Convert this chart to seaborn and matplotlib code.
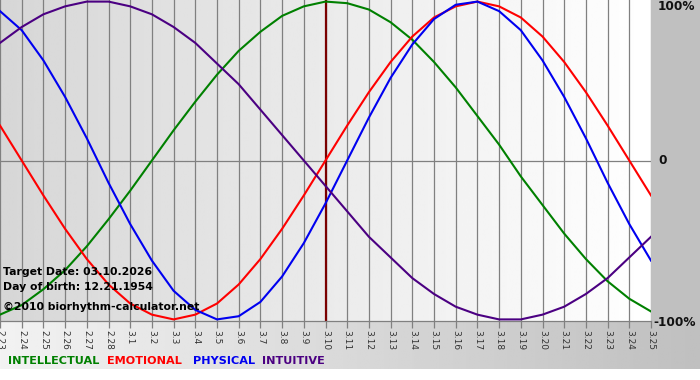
import matplotlib
matplotlib.use("Agg")
import matplotlib.pyplot as plt
import seaborn as sns
import numpy as np
import pandas as pd
from matplotlib.patches import Rectangle

# ---- data ----
dates = ["2.23", "2.24", "2.25", "2.26", "2.27", "2.28", "3.1", "3.2", "3.3", "3.4",
         "3.5", "3.6", "3.7", "3.8", "3.9", "3.10", "3.11", "3.12", "3.13", "3.14",
         "3.15", "3.16", "3.17", "3.18", "3.19", "3.20", "3.21", "3.22", "3.23", "3.24", "3.25"]
physical = [0.94, 0.82, 0.63, 0.40, 0.14, -0.14, -0.40, -0.63, -0.82, -0.94,
            -1.00, -0.98, -0.89, -0.73, -0.52, -0.27, 0.00, 0.27, 0.52, 0.73,
            0.89, 0.98, 1.00, 0.94, 0.82, 0.63, 0.40, 0.14, -0.14, -0.40, -0.63]
emotional = [0.22, 0.00, -0.22, -0.43, -0.62, -0.78, -0.90, -0.97, -1.00, -0.97,
             -0.90, -0.78, -0.62, -0.43, -0.22, 0.00, 0.22, 0.43, 0.62, 0.78,
             0.90, 0.97, 1.00, 0.97, 0.90, 0.78, 0.62, 0.43, 0.22, 0.00, -0.22]
intellectual = [-0.97, -0.91, -0.81, -0.69, -0.54, -0.37, -0.19, 0.00, 0.19, 0.37,
                0.54, 0.69, 0.81, 0.91, 0.97, 1.00, 0.99, 0.95, 0.87, 0.76,
                0.62, 0.46, 0.28, 0.10, -0.10, -0.28, -0.46, -0.62, -0.76, -0.87, -0.95]
intuitive = [0.74, 0.84, 0.92, 0.97, 1.00, 1.00, 0.97, 0.92, 0.84, 0.74,
             0.61, 0.48, 0.32, 0.16, 0.00, -0.16, -0.32, -0.48, -0.61, -0.74,
             -0.84, -0.92, -0.97, -1.00, -1.00, -0.97, -0.92, -0.84, -0.74, -0.61, -0.48]
target_date = "3.10"
series_names = ["INTELLECTUAL", "EMOTIONAL", "PHYSICAL", "INTUITIVE"]
colors = {"INTELLECTUAL": "#008000", "EMOTIONAL": "#ff0000",
          "PHYSICAL": "#0000f0", "INTUITIVE": "#4b0082"}
info_lines = ["Target Date: 03.10.2026", "Day of birth: 12.21.1954",
              "\u00a92010 biorhythm-calculator.net"]

idx = list(range(len(dates)))
df = pd.concat([
    pd.DataFrame({"day": idx, "value": intellectual, "series": "INTELLECTUAL"}),
    pd.DataFrame({"day": idx, "value": emotional, "series": "EMOTIONAL"}),
    pd.DataFrame({"day": idx, "value": physical, "series": "PHYSICAL"}),
    pd.DataFrame({"day": idx, "value": intuitive, "series": "INTUITIVE"}),
])

W, H = 700, 380
fig = plt.figure(figsize=(W / 100, H / 100), dpi=100, facecolor="white")

def fx(x):
    return x / W

def fy(y):
    return 1 - y / H

# background decorations
bg = fig.add_axes([0, 0, 1, 1], zorder=-10)
bg.axis("off")
grad_b = np.linspace(0.95, 0.75, 256).reshape(1, -1)
bg.imshow(grad_b, extent=(0, W, 369, 321), aspect="auto", cmap="gray", vmin=0, vmax=1)
bg.add_patch(Rectangle((651, 0), W - 651, 321, color="#c0c0c0", lw=0))
bg.set_xlim(0, W)
bg.set_ylim(H, 0)

ax = fig.add_axes([0, fy(321), fx(651), 321 / H])
ax.set_facecolor("none")
ylim = 1.01
grad = np.linspace(0.84, 1.0, 256).reshape(1, -1)
ax.imshow(grad, extent=(0, len(dates) - 1, -ylim, ylim), aspect="auto",
          cmap="gray", vmin=0, vmax=1, zorder=0)

for i in idx:
    ax.axvline(i, color="#808080", lw=0.9, zorder=1)
ax.axhline(0, color="#808080", lw=0.9, zorder=1)

sns.lineplot(data=df, x="day", y="value", hue="series", palette=colors,
             hue_order=series_names, linewidth=1.5, legend=False, ax=ax, zorder=3,
             estimator=None, sort=False)
for ln in ax.get_lines():
    ln.set_solid_joinstyle("round")

t = dates.index(target_date)
ax.axvline(t, color="#7a0000", lw=1.6, zorder=2)

ax.set_xlim(0, len(dates) - 1)
ax.set_ylim(-ylim, ylim)
ax.set_xticks(idx)
ax.set_xticklabels(dates, rotation=-90, fontsize=6.5, color="#333333")
ax.tick_params(axis="x", length=5, color="#808080", pad=1.5, width=0.9)
ax.set_yticks([])
ax.set_xlabel("")
ax.set_ylabel("")
for s in ["top", "left", "right"]:
    ax.spines[s].set_visible(False)
ax.spines["bottom"].set_color("#808080")
ax.spines["bottom"].set_linewidth(0.9)

# right labels
fig.text(fx(658), fy(7), "100%", fontsize=8.7, fontweight="bold", color="#111111",
         va="center", ha="left")
fig.text(fx(658), fy(161), "0", fontsize=8.7, fontweight="bold", color="#111111",
         va="center", ha="left")
fig.text(fx(653), fy(322), "-100%", fontsize=8.7, fontweight="bold", color="#111111",
         va="center", ha="left")

# info text
for y, s in zip([272, 287, 307], info_lines):
    fig.text(fx(3), fy(y), s, fontsize=7.8, fontweight="bold", color="#000000",
             va="center", ha="left", zorder=5)

# legend words
leg_x = [8, 107, 193, 262]
for x, name in zip(leg_x, series_names):
    fig.text(fx(x), fy(361), name, fontsize=8.1, fontweight="bold", color=colors[name],
             va="center", ha="left")

fig.savefig("out.png", dpi=100, facecolor="white")
